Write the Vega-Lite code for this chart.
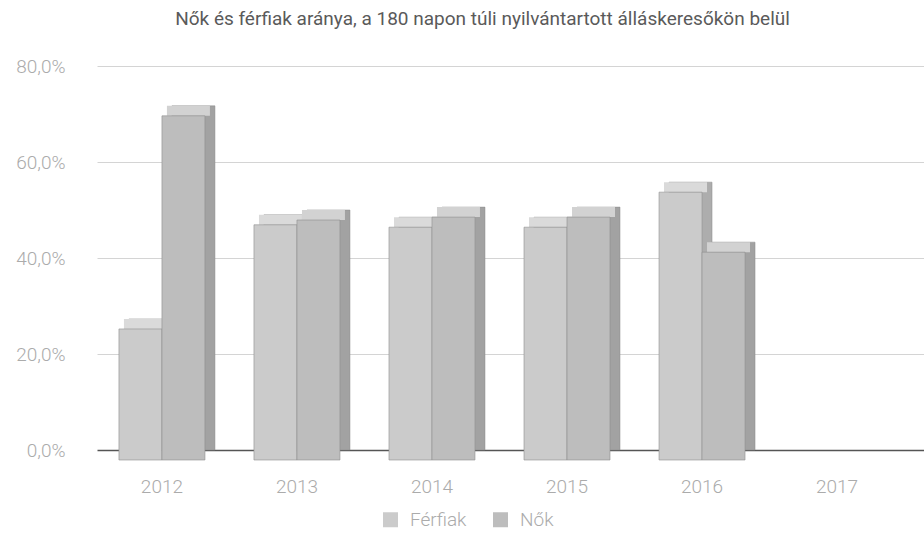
{
  "$schema": "https://vega.github.io/schema/vega-lite/v6.json",
  "width": 827,
  "height": 384,
  "autosize": "none",
  "padding": {"left": 97, "top": 66, "right": 0, "bottom": 83},
  "background": "white",
  "config": {"view": {"stroke": null}, "font": "Roboto"},
  "title": {
    "text": "Nők és férfiak aránya, a 180 napon túli nyilvántartott álláskeresőkön belül",
    "fontSize": 19, "fontWeight": "normal", "color": "#5a5a5a", "font": "Roboto",
    "offset": 28, "dx": -28
  },
  "data": {
    "values": [
      {"year": "2012", "series": "Férfiak", "value": 27.3},
      {"year": "2012", "series": "Nők", "value": 71.7},
      {"year": "2013", "series": "Férfiak", "value": 49.0},
      {"year": "2013", "series": "Nők", "value": 50.0},
      {"year": "2014", "series": "Férfiak", "value": 48.5},
      {"year": "2014", "series": "Nők", "value": 50.6},
      {"year": "2015", "series": "Férfiak", "value": 48.5},
      {"year": "2015", "series": "Nők", "value": 50.6},
      {"year": "2016", "series": "Férfiak", "value": 55.8},
      {"year": "2016", "series": "Nők", "value": 43.3}
    ]
  },
  "encoding": {
    "x": {
      "field": "year", "type": "nominal",
      "scale": {"domain": ["2012", "2013", "2014", "2015", "2016", "2017"], "paddingInner": 0.363, "paddingOuter": 0.244, "align": 0.333},
      "axis": {"title": null, "labelAngle": 0, "ticks": false, "domain": false, "grid": false,
               "labelFontSize": 19, "labelColor": "#ababab", "labelPadding": 27, "labelFont": "Roboto", "labelFontWeight": 300}
    },
    "y": {
      "field": "value", "type": "quantitative",
      "scale": {"domain": [0, 80]},
      "axis": {"title": null, "values": [0, 20, 40, 60, 80],
               "labelExpr": "replace(format(datum.value, '.1f'), '.', ',') + '%'",
               "ticks": false, "domain": false, "labelPadding": 32,
               "labelFontSize": 19, "labelColor": "#ababab", "labelFont": "Roboto", "labelFontWeight": 300,
               "gridColor": {"condition": {"test": "datum.value === 0", "value": "#555555"}, "value": "#d4d4d4"},
               "gridWidth": {"condition": {"test": "datum.value === 0", "value": 1.5}, "value": 1}}
    }
  },
  "resolve": {"scale": {"xOffset": "independent"}},
  "layer": [
    {
      "mark": {"type": "bar", "stroke": "#8a8a8a", "strokeWidth": 0.5},
      "encoding": {
        "xOffset": {"field": "series", "type": "nominal", "sort": ["Férfiak", "Nők"], "scale": {"domain": ["Férfiak", "Nők"], "range": [10, 96], "paddingInner": 0, "paddingOuter": 0}},
        "color": {"condition": {"test": "datum.series === 'Nők'", "value": "#a2a2a2"}, "value": "#adadad"}
      }
    },
    {
      "mark": {"type": "bar", "yOffset": 0, "y2Offset": 10},
      "encoding": {
        "xOffset": {"field": "series", "type": "nominal", "sort": ["Férfiak", "Nők"], "scale": {"domain": ["Férfiak", "Nők"], "range": [5, 91], "paddingInner": 0, "paddingOuter": 0}},
        "y2": {"field": "value"},
        "color": {"condition": {"test": "datum.series === 'Nők'", "value": "#d2d2d2"}, "value": "#dadada"}
      }
    },
    {
      "mark": {"type": "bar", "yOffset": 10, "y2Offset": 10, "stroke": "#8f8f8f", "strokeWidth": 0.6},
      "encoding": {
        "xOffset": {"field": "series", "type": "nominal", "sort": ["Férfiak", "Nők"], "scale": {"domain": ["Férfiak", "Nők"], "range": [0, 86], "paddingInner": 0, "paddingOuter": 0}},
        "color": {
          "field": "series", "type": "nominal",
          "scale": {"domain": ["Férfiak", "Nők"], "range": ["#cbcbcb", "#bdbdbd"]},
          "legend": {"title": null, "orient": "none", "legendX": 284, "legendY": 444, "direction": "horizontal",
                     "symbolType": "square", "symbolSize": 225, "symbolStrokeWidth": 0,
                     "labelFontSize": 19, "labelColor": "#ababab", "labelFont": "Roboto", "labelFontWeight": 300,
                     "columnPadding": 24, "labelOffset": 10}
        }
      }
    }
  ]
}
